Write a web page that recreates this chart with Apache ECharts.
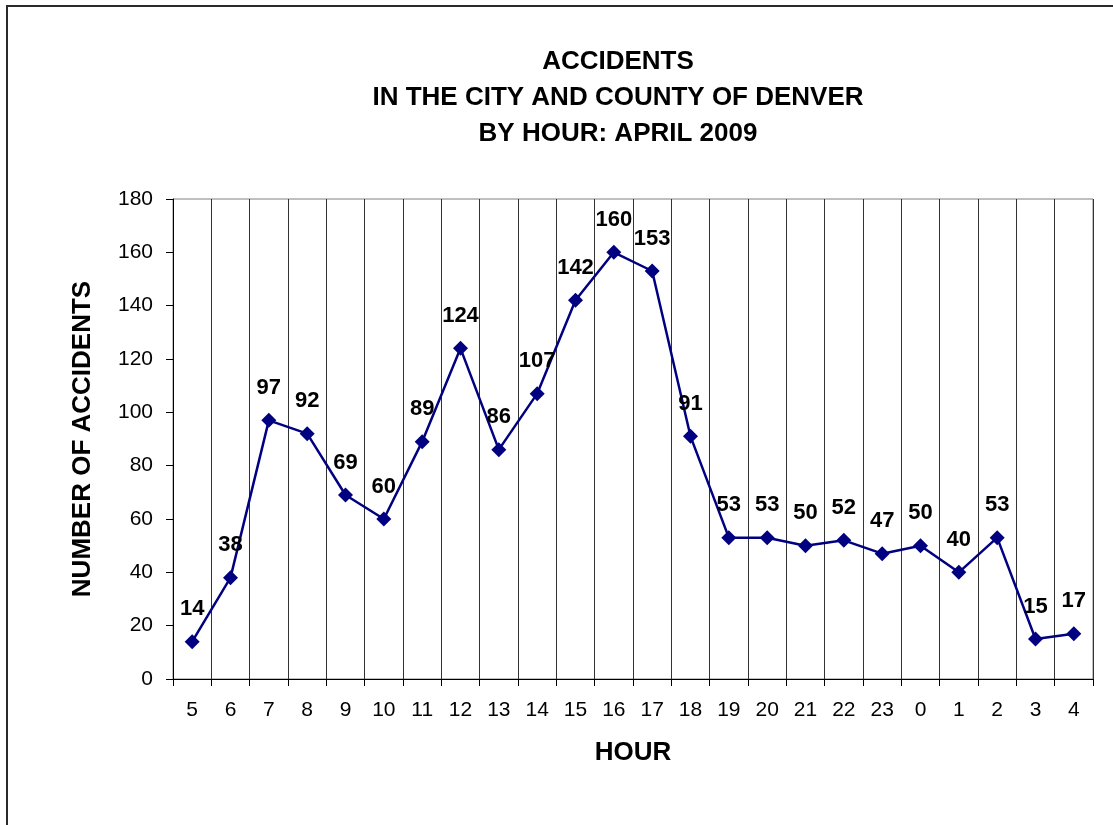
<!DOCTYPE html>
<html>
<head>
<meta charset="utf-8">
<script src="https://cdn.jsdelivr.net/npm/echarts@6/dist/echarts.min.js"></script>
<style>
html,body{margin:0;padding:0;background:#fff;}
#c{width:1113px;height:825px;}
</style>
</head>
<body>
<div id="c"></div>
<script>
const hours = ['5','6','7','8','9','10','11','12','13','14','15','16','17','18','19','20','21','22','23','0','1','2','3','4'];
const accidents = [14,38,97,92,69,60,89,124,86,107,142,160,153,91,53,53,50,52,47,50,40,53,15,17];
const yTicks = {min:0, max:180, interval:20};
const titleLines = ['ACCIDENTS','IN THE CITY AND COUNTY OF DENVER','BY HOUR: APRIL 2009'];

const FONT = '"Liberation Sans", Arial, sans-serif';
const chart = echarts.init(document.getElementById('c'), null, {renderer:'canvas'});
chart.setOption({
  animation:false,
  backgroundColor:'#fff',
  title:{
    text: titleLines.join('\n'),
    left: 613, top: 39, textAlign:'center',
    textStyle:{fontFamily:FONT, fontSize:26, fontWeight:'bold', color:'#000', lineHeight:36}
  },
  graphic:[{
    type:'rect', shape:{x:7, y:6, width:1300, height:1000},
    style:{fill:null, stroke:'#2a2a2a', lineWidth:2}, silent:true
  }],
  grid:{left:173, right:20, top:199, bottom:146, show:true, borderColor:'#808080', borderWidth:1, backgroundColor:'transparent'},
  xAxis:{
    type:'category', data:hours, boundaryGap:true,
    name:'HOUR', nameLocation:'middle', nameGap:61,
    nameTextStyle:{fontFamily:FONT, fontSize:26, fontWeight:'bold', color:'#000'},
    axisLine:{show:true, lineStyle:{color:'#000', width:1}},
    axisTick:{show:true, alignWithLabel:false, interval:0, length:7, lineStyle:{color:'#000'}},
    axisLabel:{interval:0, margin:21, fontFamily:FONT, fontSize:21, color:'#000'},
    splitLine:{show:true, interval:0, lineStyle:{color:'#333', width:1}}
  },
  yAxis:{
    type:'value', min:yTicks.min, max:yTicks.max, interval:yTicks.interval,
    name:'NUMBER OF ACCIDENTS', nameLocation:'middle', nameGap:77, nameRotate:90,
    nameTextStyle:{fontFamily:FONT, fontSize:26, fontWeight:'bold', color:'#000'},
    axisLine:{show:true, lineStyle:{color:'#000', width:1}},
    axisTick:{show:true, length:7, lineStyle:{color:'#000'}},
    axisLabel:{margin:20, fontFamily:FONT, fontSize:21, color:'#000'},
    splitLine:{show:false}
  },
  series:[{
    type:'line', data:accidents,
    symbol:'diamond', symbolSize:15,
    lineStyle:{color:'#000080', width:2.5},
    itemStyle:{color:'#000080'},
    label:{show:true, position:'top', distance:14, fontFamily:FONT, fontSize:22, fontWeight:'bold', color:'#000'}
  }]
});
</script>
</body>
</html>
